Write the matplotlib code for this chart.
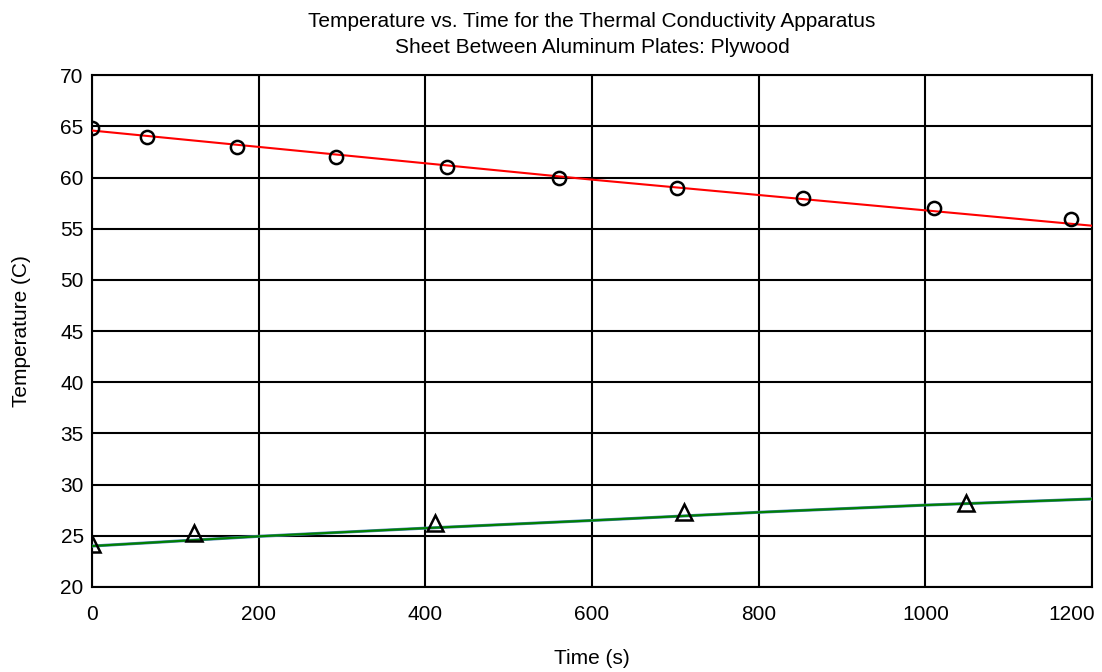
import matplotlib
matplotlib.use("Agg")
import matplotlib.pyplot as plt
from matplotlib.transforms import ScaledTranslation

plt.rcParams['font.family'] = ['Liberation Sans', 'DejaVu Sans']

# Hot plate readings (circles)
hot_t = [0, 66, 174, 293, 426, 560, 702, 853, 1010, 1175]
hot_T = [64.8, 64.0, 63.0, 62.0, 61.0, 60.0, 59.0, 58.0, 57.0, 56.0]
# Cold plate readings (triangles)
cold_t = [0, 122, 412, 710, 1049]
cold_T = [24.2, 25.3, 26.3, 27.3, 28.2]
# Fitted curves
hot_fit_t = [0, 200, 600, 1200]
hot_fit_T = [64.6, 63.0, 59.8, 55.3]
cold_fit_t = [0, 200, 400, 600, 800, 1000, 1200]
cold_fit_T = [24.0, 24.95, 25.75, 26.5, 27.3, 28.0, 28.6]

xticks = [0, 200, 400, 600, 800, 1000, 1200]
yticks = [20, 25, 30, 35, 40, 45, 50, 55, 60, 65, 70]

fig = plt.figure(figsize=(11.02, 6.72), dpi=100)
ax = fig.add_axes([0.0835, 0.1265, 0.9075, 0.7615])

ax.plot(hot_fit_t, hot_fit_T, color='red', lw=1.5, zorder=3)
ax.plot(cold_fit_t, cold_fit_T, color='#4a7fb0', lw=2.2, zorder=3)
ax.plot(cold_fit_t, cold_fit_T, color='green', lw=1.5, zorder=4)
ax.plot(hot_t, hot_T, ls='none', marker='o', ms=9.5, mfc='none', mec='black', mew=1.8, zorder=5)
ax.plot(cold_t, cold_T, ls='none', marker='^', ms=12, mfc='none', mec='black', mew=1.8, zorder=5)

ax.set_xlim(0, 1200)
ax.set_ylim(20, 70)
ax.set_xticks(xticks)
ax.set_yticks(yticks)
ax.grid(True, color='black', lw=1.5)
ax.set_axisbelow(True)
for s in ax.spines.values():
    s.set_color('black')
    s.set_linewidth(1.5)
ax.tick_params(length=0, labelsize=15)
ax.tick_params(axis='x', pad=13)
ax.tick_params(axis='y', pad=6)

fig.canvas.draw()
last = ax.get_xticklabels()[-1]
last.set_transform(last.get_transform() + ScaledTranslation(-20 / 100, 0, fig.dpi_scale_trans))

ax.set_xlabel('Time (s)', fontsize=15, labelpad=18)
ax.set_ylabel('Temperature (C)', fontsize=15, labelpad=21)
ax.set_title('Temperature vs. Time for the Thermal Conductivity Apparatus\nSheet Between Aluminum Plates: Plywood',
             fontsize=15, pad=16, linespacing=1.5)

fig.savefig('out.png', dpi=100)
